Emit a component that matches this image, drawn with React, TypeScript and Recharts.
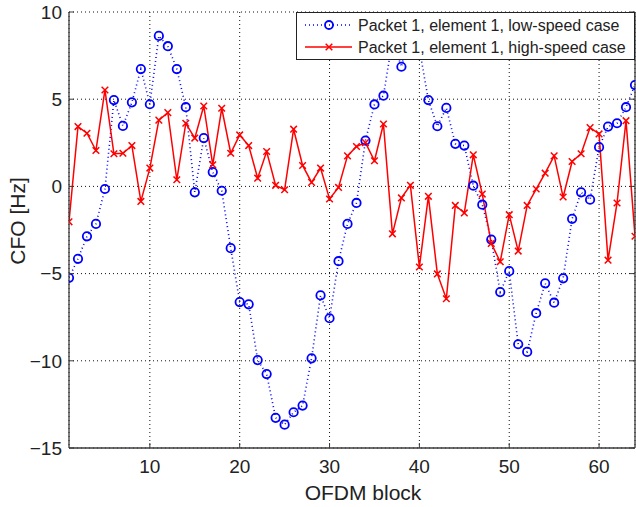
import {
  LineChart,
  Line,
  XAxis,
  YAxis,
  CartesianGrid,
  Legend,
} from "recharts";

// CFO per OFDM block, packet 1 / element 1
const lowSpeed = [
  -5.24, -4.15, -2.86, -2.15, -0.15, 4.95, 3.47, 4.82, 6.73, 4.71,
  8.63, 8.04, 6.73, 4.54, -0.34, 2.77, 0.82, -0.25, -3.54, -6.63,
  -6.76, -9.96, -10.76, -13.27, -13.66, -12.95, -12.57, -9.86, -6.25, -7.56,
  -4.29, -2.15, -0.95, 2.63, 4.7, 5.2, 8.4, 6.86, 8.9, 7.9,
  4.95, 3.45, 4.5, 2.44, 2.34, 0.04, -1.05, -3.05, -6.06, -4.86,
  -9.05, -9.49, -7.27, -5.56, -6.67, -5.27, -1.86, -0.34, -0.76, 2.25,
  3.43, 3.62, 4.54, 5.81,
];

const highSpeed = [
  -2.03, 3.43, 3.05, 2.06, 5.53, 1.87, 1.9, 2.34, -0.86, 1.05,
  3.8, 4.23, 0.38, 3.62, 2.77, 4.61, 1.24, 4.48, 1.9, 2.95,
  2.34, 0.47, 2.0, 0.06, -0.19, 3.28, 1.2, 0.23, 1.05, -0.72,
  -0.06, 1.75, 2.29, 2.51, 1.47, 3.58, -2.72, -0.66, 0.06, -4.62,
  -0.57, -5.02, -6.44, -1.09, -1.52, 1.81, -0.44, -3.27, -4.32, -1.62,
  -3.71, -1.09, -0.15, 0.76, 1.75, -0.61, 1.43, 1.87, 3.37, 3.01,
  -4.23, -0.95, 3.77, -2.86,
];

const xTicks = [10, 20, 30, 40, 50, 60];
const yTicks = [-15, -10, -5, 0, 5, 10];

const labelLow = "Packet 1, element 1, low-speed case";
const labelHigh = "Packet 1, element 1, high-speed case";

const data = lowSpeed.map((v, i) => ({
  block: i + 1,
  low: v,
  high: highSpeed[i],
}));

const font = '"Liberation Sans", Arial, Helvetica, sans-serif';
const axisColor = "#3c3c3c";
const blue = "#0000ff";
const red = "#ff0000";

const fmt = (v: number) => (v < 0 ? "\u2212" + Math.abs(v) : String(v));

const BottomTick = (props: any) => {
  const { x, y, payload } = props;
  return (
    <g>
      <line x1={x} x2={x} y1={y} y2={y - 5} stroke={axisColor} />
      <text x={x} y={y + 24.5} textAnchor="middle" fontSize={19} fill="#222" fontFamily={font}>
        {fmt(payload.value)}
      </text>
    </g>
  );
};

const TopTick = (props: any) => {
  const { x, y } = props;
  return <line x1={x} x2={x} y1={y} y2={y + 5} stroke={axisColor} />;
};

const LeftTick = (props: any) => {
  const { x, y, payload } = props;
  return (
    <g>
      <line x1={x + 7} x2={x + 12} y1={y} y2={y} stroke={axisColor} />
      <text x={x} y={y} dy="0.36em" textAnchor="end" fontSize={19} fill="#222" fontFamily={font}>
        {fmt(payload.value)}
      </text>
    </g>
  );
};

const RightTick = (props: any) => {
  const { x, y } = props;
  return <line x1={x} x2={x - 5} y1={y} y2={y} stroke={axisColor} />;
};

const Cross = (props: any) => {
  const { cx, cy, index } = props;
  if (cx == null || cy == null) return <g key={index} />;
  const s = 3.3;
  return (
    <path
      key={index}
      d={`M${cx - s},${cy - s}L${cx + s},${cy + s}M${cx - s},${cy + s}L${cx + s},${cy - s}`}
      stroke={red}
      strokeWidth={1.5}
      fill="none"
    />
  );
};

const LegendBox = () => (
  <svg width={339} height={48} style={{ display: "block" }}>
    <rect x={0.5} y={0.5} width={338} height={47} fill="#fff" stroke="#222" />
    <line x1={9} x2={56} y1={13} y2={13} stroke={blue} strokeWidth={1.5} strokeDasharray="1 3" />
    <circle cx={33} cy={13} r={4} fill="none" stroke={blue} strokeWidth={1.8} />
    <text x={62} y={13} dy="0.36em" fontSize={16} fill="#222" fontFamily={font}>
      {labelLow}
    </text>
    <line x1={9} x2={56} y1={35} y2={35} stroke={red} strokeWidth={1.5} />
    <path d="M29.7,31.7L36.3,38.3M29.7,38.3L36.3,31.7" stroke={red} strokeWidth={1.5} />
    <text x={62} y={35} dy="0.36em" fontSize={16} fill="#222" fontFamily={font}>
      {labelHigh}
    </text>
  </svg>
);

export default function App() {
  return (
    <div style={{ position: "absolute", left: 0, top: 0, background: "#fff" }}>
      <LineChart
        width={636}
        height={507}
        data={data}
        margin={{ top: 12, right: 0, bottom: 0, left: 0 }}
      >
        <CartesianGrid
          stroke="#111"
          strokeDasharray="1 3"
          xAxisId="bottom"
          yAxisId="left"
        />
        <XAxis
          xAxisId="bottom"
          dataKey="block"
          type="number"
          domain={[1, 64]}
          ticks={xTicks}
          allowDataOverflow
          height={59}
          tickSize={0}
          tickMargin={0}
          tick={<BottomTick />}
          tickLine={false}
          axisLine={{ stroke: axisColor, strokeWidth: 1.3 }}
          label={{
            content: () => (
              <text x={363} y={500} textAnchor="middle" fontSize={21} fill="#222" fontFamily={font}>
                OFDM block
              </text>
            ),
          }}
        />
        <XAxis
          xAxisId="top"
          orientation="top"
          dataKey="block"
          type="number"
          domain={[1, 64]}
          ticks={xTicks}
          allowDataOverflow
          height={0}
          tickSize={0}
          tickMargin={0}
          tick={<TopTick />}
          tickLine={false}
          axisLine={{ stroke: axisColor, strokeWidth: 1.3 }}
        />
        <YAxis
          yAxisId="left"
          type="number"
          domain={[-15, 10]}
          ticks={yTicks}
          allowDataOverflow
          width={69}
          tickSize={0}
          tickMargin={7}
          tick={<LeftTick />}
          tickLine={false}
          axisLine={{ stroke: axisColor, strokeWidth: 1.3 }}
          label={{
            content: () => (
              <text
                transform="translate(25,221) rotate(-90)"
                textAnchor="middle"
                fontSize={21}
                fill="#222"
                fontFamily={font}
              >
                CFO [Hz]
              </text>
            ),
          }}
        />
        <YAxis
          yAxisId="right"
          orientation="right"
          type="number"
          domain={[-15, 10]}
          ticks={yTicks}
          allowDataOverflow
          width={1}
          tickSize={0}
          tickMargin={0}
          tick={<RightTick />}
          tickLine={false}
          axisLine={{ stroke: axisColor, strokeWidth: 1.3 }}
        />
        <Line
          xAxisId="bottom"
          yAxisId="left"
          dataKey="low"
          name={labelLow}
          stroke={blue}
          strokeWidth={1.6}
          strokeDasharray="1 3"
          dot={{ r: 4.2, stroke: blue, strokeWidth: 1.8, fill: "none", strokeDasharray: "" }}
          activeDot={false}
          isAnimationActive={false}
        />
        <Line
          xAxisId="bottom"
          yAxisId="left"
          dataKey="high"
          name={labelHigh}
          stroke={red}
          strokeWidth={1.5}
          dot={<Cross />}
          activeDot={false}
          isAnimationActive={false}
        />
        <Legend
          layout="horizontal"
          verticalAlign="middle"
          align="center"
          content={<LegendBox />}
          wrapperStyle={{ left: 296, top: 12, width: 339, height: 48 }}
        />
      </LineChart>
    </div>
  );
}
